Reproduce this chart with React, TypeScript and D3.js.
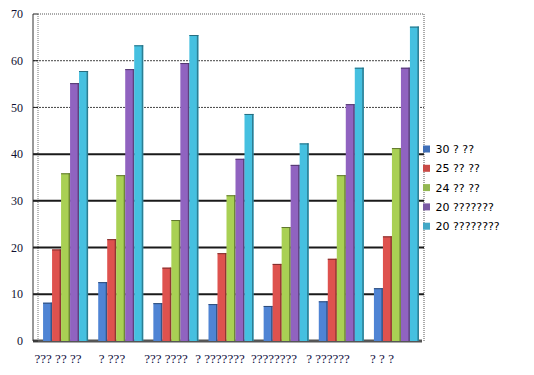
import * as d3 from 'd3';

const categories = ['??? ?? ??', '? ???', '??? ????', '? ???????', '????????', '? ??????', '? ? ?'];
const seriesNames = ['30 ? ??', '25 ?? ??', '24 ?? ??', '20 ???????', '20 ????????'];
const s30 = [8.2, 12.6, 8.1, 7.9, 7.5, 8.5, 11.3];
const s25 = [19.6, 21.8, 15.7, 18.8, 16.5, 17.6, 22.4];
const s24 = [35.9, 35.5, 25.9, 31.2, 24.4, 35.5, 41.3];
const s20a = [55.2, 58.2, 59.5, 39.0, 37.7, 50.7, 58.5];
const s20b = [57.8, 63.3, 65.5, 48.6, 42.3, 58.5, 67.3];
const yTicks = [0, 10, 20, 30, 40, 50, 60, 70];

const colors = ['#4f84d4', '#de524e', '#a9d054', '#9063c0', '#45c0e0'];
const legendColors = ['#3f6fb8', '#c94a46', '#94b852', '#7a5aa4', '#42a8c6'];

const W = 534;
const H = 375;

export default function App() {
  const series = [s30, s25, s24, s20a, s20b];

  const y = d3.scaleLinear().domain([0, 70]).range([341, 14]);
  const x = d3.scaleBand<string>().domain(categories).range([38, 424]);
  const xLabel = d3.scaleBand<string>().domain(categories).range([31, 409]);
  const groupW = 45;
  const xs = d3
    .scaleBand<number>()
    .domain(d3.range(series.length))
    .range([0, groupW]);

  const wallL = x.range()[0];
  const wallR = x.range()[1];
  const front = 33;

  return (
    <div style={{ position: 'fixed', left: 0, top: 0 }}>
      <svg width={W} height={H} style={{ display: 'block', background: '#fff' }}>
        {/* back wall border */}
        <line x1={wallL} x2={wallR} y1={y(70)} y2={y(70)} stroke="#555" strokeDasharray="1,1" />
        <line x1={wallL} x2={wallL} y1={y(70)} y2={y(0)} stroke="#777" strokeDasharray="1,1" />
        <line x1={wallR} x2={wallR} y1={y(70)} y2={y(0)} stroke="#555" strokeDasharray="1,1" />

        {/* gridlines */}
        {yTicks
          .filter((t) => t > 0 && t < 70)
          .map((t) => (
            <line
              key={t}
              x1={front}
              x2={wallR}
              y1={y(t)}
              y2={y(t)}
              stroke={t >= 50 ? '#444' : '#1a1a1a'}
              strokeWidth={t >= 50 ? 1 : 2}
              strokeDasharray={t >= 50 ? '2,1' : undefined}
            />
          ))}

        {/* floor */}
        <rect x={front} y={y(0) - 1.5} width={wallR - front - 2} height={3} fill="#555" />

        {/* bars */}
        {categories.map((c, ci) => {
          const gx = (x(c) ?? 0) + (x.bandwidth() - groupW) / 2;
          return (
            <g key={c}>
              {series.map((s, si) => {
                const bx = gx + (xs(si) ?? 0);
                const bw = xs.bandwidth();
                const top = y(s[ci]);
                const h = y(0) - top;
                return (
                  <g key={si}>
                    <rect x={bx} y={top} width={bw} height={h} fill={colors[si]} />
                    <rect x={bx + bw - 1.5} y={top} width={1.5} height={h} fill={d3.color(colors[si])!.darker(1.2).toString()} />
                    <rect x={bx} y={top} width={bw} height={1} fill={d3.color(colors[si])!.darker(1.6).toString()} />
                  </g>
                );
              })}
            </g>
          );
        })}

        {/* y axis */}
        <line x1={front} x2={front} y1={y(70)} y2={y(0)} stroke="#333" />
        {yTicks.map((t) => (
          <g key={t}>
            <line x1={front} x2={wallL} y1={y(t)} y2={y(t)} stroke="#222" />
            <text
              x={23}
              y={y(t)}
              dy="0.35em"
              textAnchor="end"
              fontFamily="'Liberation Serif', serif"
              fontSize={12}
              fill="#101030"
            >
              {t}
            </text>
          </g>
        ))}

        {/* category labels */}
        {categories.map((c) => (
          <text
            key={c}
            x={(xLabel(c) ?? 0) + xLabel.bandwidth() / 2}
            y={363}
            textAnchor="middle"
            fontFamily="'Liberation Serif', serif"
            fontSize={13}
            fill="#101040"
          >
            {c}
          </text>
        ))}

        {/* legend */}
        {seriesNames.map((n, i) => {
          const by = 153 + i * 19.3;
          return (
            <g key={n}>
              <rect x={423} y={by - 7.5} width={7} height={7} fill={legendColors[i]} />
              <text x={435.5} y={by} fontFamily="'DejaVu Sans', sans-serif" fontSize={11} fill="#000">
                {n}
              </text>
            </g>
          );
        })}
      </svg>
    </div>
  );
}
